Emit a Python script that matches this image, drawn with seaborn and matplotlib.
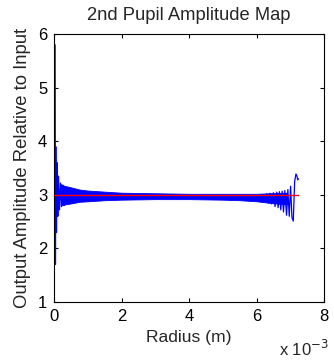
import numpy as np
import pandas as pd
import matplotlib
matplotlib.use("Agg")
import matplotlib.pyplot as plt
import seaborn as sns

# ---- data (radius in mm, amplitude relative to input) ----
start_r = [0.03, 0.04, 0.05, 0.07, 0.09, 0.11, 0.13, 0.16, 0.19, 0.22, 0.26, 0.30]
start_amp = [5.80, 1.70, 3.90, 2.30, 3.60, 2.60, 3.35, 2.72, 3.22, 2.78, 3.18, 2.80]

band_r = [0.20, 0.30, 0.50, 0.75, 1.00, 1.50, 2.00, 3.00, 4.00, 5.00, 5.50, 6.00, 6.40, 6.90]
band_hi = [3.20, 3.17, 3.14, 3.10, 3.08, 3.06, 3.04, 3.03, 3.02, 3.02, 3.02, 3.02, 3.03, 3.04]
band_lo = [2.80, 2.82, 2.84, 2.87, 2.88, 2.90, 2.91, 2.92, 2.92, 2.91, 2.90, 2.88, 2.85, 2.82]

end_r = [6.30, 6.35, 6.40, 6.45, 6.50, 6.55, 6.60, 6.64, 6.68, 6.72, 6.76, 6.80,
         6.84, 6.89, 6.93, 6.97, 7.01, 7.05, 7.09, 7.13, 7.17, 7.20, 7.22, 7.24]
end_amp = [3.02, 2.85, 3.03, 2.83, 3.04, 2.78, 3.05, 2.76, 3.06, 2.72, 3.07, 2.68,
           3.08, 2.62, 3.10, 2.60, 3.16, 2.58, 2.51, 3.25, 3.39, 3.35, 3.28, 3.30]

ref_r = [0.00, 7.24]
ref_amp = [3.0, 3.0]

xticks_mm = [0, 2, 4, 6, 8]
yticks = [1, 2, 3, 4, 5, 6]

sns.set_style("ticks")
plt.rcParams['font.family'] = ['Liberation Sans', 'DejaVu Sans']

fig = plt.figure(figsize=(3.34, 3.63), dpi=100)
ax = fig.add_axes([0.162, 0.168, 0.808, 0.738])

scale = 1e-3
ax.fill_between(np.array(band_r) * scale, band_lo, band_hi, color=(0, 0, 1), lw=0.6,
                edgecolor=(0, 0, 1), zorder=2)
df_s = pd.DataFrame({"r": np.array(start_r) * scale, "a": start_amp})
df_e = pd.DataFrame({"r": np.array(end_r) * scale, "a": end_amp})
sns.lineplot(data=df_s, x="r", y="a", sort=False, estimator=None, color=(0, 0, 1), lw=0.9, ax=ax)
sns.lineplot(data=df_e, x="r", y="a", sort=False, estimator=None, color=(0, 0, 1), lw=0.9, ax=ax)
ax.plot(np.array(ref_r) * scale, ref_amp, color=(1, 0, 0), lw=1.0, zorder=5)

ax.set_xlim(0, 8e-3)
ax.set_ylim(1, 6)
ax.set_xticks([t * scale for t in xticks_mm])
ax.set_xticklabels([str(t) for t in xticks_mm])
ax.set_yticks(yticks)
ax.set_yticklabels([str(t) for t in yticks])
for s in ax.spines.values():
    s.set_visible(True)
    s.set_color("black")
    s.set_linewidth(0.8)
ax.tick_params(direction="in", length=3, width=0.8, top=True, right=True,
               labelsize=12, colors="black", pad=5)

ax.set_title("2nd Pupil Amplitude Map", fontsize=13.2, pad=10)
ax.set_xlabel("Radius (m)", fontsize=12.6, labelpad=4)
ax.set_ylabel("Output Amplitude Relative to Input", fontsize=13.3, labelpad=5)
fig.text(0.835, 0.012, r"x 10$^{-3}$", fontsize=12, ha="left", va="bottom")

fig.savefig("out.png", dpi=100)
